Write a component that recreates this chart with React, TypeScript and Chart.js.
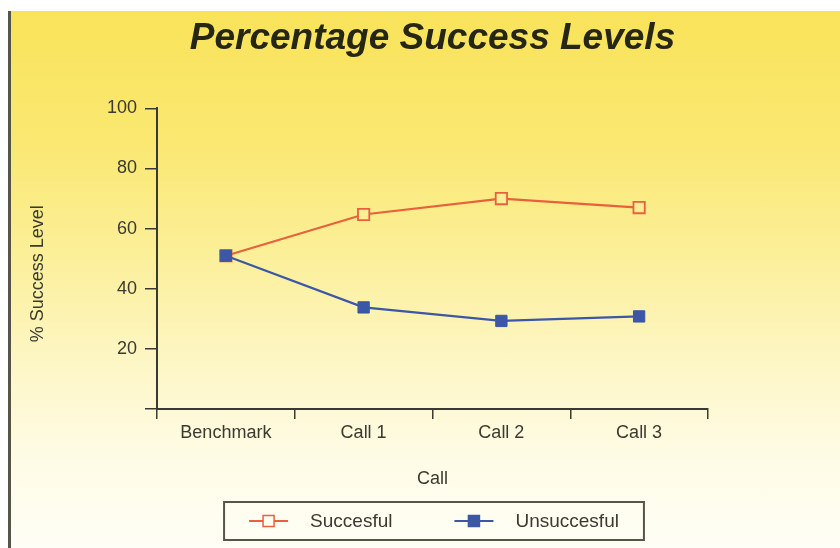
import React, { useEffect, useRef } from 'react';
import { Chart, registerables } from 'chart.js';

Chart.register(...registerables);

const categories = ['Benchmark', 'Call 1', 'Call 2', 'Call 3'];
const successful = [51, 64.7, 70, 67];
const unsuccessful = [51, 33.8, 29.3, 30.8];
const seriesNames = ['Succesful', 'Unsuccesful'];
const chartTitle = 'Percentage Success Levels';
const xTitle = 'Call';
const yTitle = '% Success Level';
const yMin = 0;
const yMax = 100;
const yStep = 20;

const FONT = '"Liberation Sans", Arial, Helvetica, sans-serif';
const TEXT = '#3a3a30';
const AXIS = '#3a3a30';
const ORANGE = '#e8603c';
const BLUE = '#3b57a6';

const boxLegend = {
  id: 'boxLegend',
  afterDraw(chart: any) {
    const { ctx, chartArea } = chart;
    ctx.save();
    ctx.font = `19px ${FONT}`;
    const lineLen = 39;
    const gapText = 22;
    const gapItem = 62;
    const padX = 25;
    const datasets = chart.data.datasets;
    const widths = datasets.map((ds: any) => ctx.measureText(ds.label).width);
    let contentW = 0;
    widths.forEach((w: number, i: number) => {
      contentW += lineLen + gapText + w + (i ? gapItem : 0);
    });
    const boxW = contentW + padX * 2;
    const cx = (chartArea.left + chartArea.right) / 2 + 1.5;
    const boxH = 38;
    const top = chart.height - 46;
    const left = cx - boxW / 2;
    ctx.strokeStyle = '#55554a';
    ctx.lineWidth = 2;
    ctx.strokeRect(left, top, boxW, boxH);
    const cy = top + boxH / 2;
    let x = left + padX;
    datasets.forEach((ds: any, i: number) => {
      ctx.strokeStyle = ds.borderColor;
      ctx.lineWidth = 2;
      ctx.beginPath();
      ctx.moveTo(x, cy);
      ctx.lineTo(x + lineLen, cy);
      ctx.stroke();
      const s = 11;
      const mx = x + lineLen / 2;
      ctx.fillStyle = ds.legendFill;
      ctx.fillRect(mx - s / 2, cy - s / 2, s, s);
      ctx.lineWidth = 1.5;
      ctx.strokeRect(mx - s / 2, cy - s / 2, s, s);
      x += lineLen + gapText;
      ctx.fillStyle = TEXT;
      ctx.textBaseline = 'middle';
      ctx.textAlign = 'left';
      ctx.fillText(ds.label, x, cy + 1);
      x += widths[i] + gapItem;
    });
    ctx.restore();
  },
};

export default function App() {
  const ref = useRef<HTMLCanvasElement>(null);

  useEffect(() => {
    if (!ref.current) return;
    Chart.defaults.font.family = FONT;
    const chart = new Chart(ref.current, {
      type: 'line',
      data: {
        labels: categories,
        datasets: [
          {
            label: seriesNames[0],
            data: successful,
            borderColor: ORANGE,
            backgroundColor: ORANGE,
            borderWidth: 2.2,
            pointStyle: 'rect',
            pointRadius: 8,
            pointBorderWidth: 1.8,
            pointBorderColor: ORANGE,
            pointBackgroundColor: '#fcee94',
            tension: 0,
            order: 1,
            legendFill: '#fffdf2',
          } as any,
          {
            label: seriesNames[1],
            data: unsuccessful,
            borderColor: BLUE,
            backgroundColor: BLUE,
            borderWidth: 2.2,
            pointStyle: 'rect',
            pointRadius: 8,
            pointBorderWidth: 1,
            pointBorderColor: BLUE,
            pointBackgroundColor: BLUE,
            tension: 0,
            order: 0,
            legendFill: BLUE,
          } as any,
        ],
      },
      options: {
        responsive: false,
        animation: false,
        devicePixelRatio: 1,
        layout: { padding: { top: 0, left: 0, right: 132, bottom: 58 } },
        plugins: {
          legend: { display: false },
          tooltip: { enabled: false },
          title: {
            display: true,
            text: chartTitle,
            fullSize: false,
            color: '#262614',
            font: { size: 37, weight: 'bold', style: 'italic', family: FONT },
            padding: { top: 6, bottom: 47 },
          },
        },
        scales: {
          x: {
            type: 'category',
            offset: true,
            grid: {
              display: true,
              offset: true,
              drawOnChartArea: false,
              drawTicks: true,
              tickLength: 10,
              color: AXIS,
              lineWidth: 1.5,
            },
            border: { display: true, color: AXIS, width: 2 },
            ticks: { color: TEXT, font: { size: 18, family: FONT }, padding: 3 },
            title: {
              display: true,
              text: xTitle,
              color: TEXT,
              font: { size: 18, family: FONT },
              padding: { top: 0, bottom: 0 },
            },
            afterFit: (s: any) => {
              s.height = 81;
            },
          },
          y: {
            min: yMin,
            max: yMax,
            grid: {
              display: true,
              drawOnChartArea: false,
              drawTicks: true,
              tickLength: 12,
              color: AXIS,
              lineWidth: 1.5,
            },
            border: { display: true, color: AXIS, width: 2 },
            ticks: {
              stepSize: yStep,
              color: TEXT,
              font: { size: 18, family: FONT },
              padding: 8,
              callback: (v: any) => (v === 0 ? '' : String(v)),
            },
            title: {
              display: true,
              text: yTitle + '      ',
              color: TEXT,
              font: { size: 18, family: FONT },
              padding: { top: 16, bottom: 0 },
            },
            afterFit: (s: any) => {
              s.width = 146;
            },
          },
        },
      },
      plugins: [boxLegend],
    });
    return () => chart.destroy();
  }, []);

  return (
    <div
      style={{
        position: 'absolute',
        left: 0,
        top: 0,
        width: 840,
        height: 548,
        background: '#ffffff',
        overflow: 'hidden',
      }}
    >
      <div
        style={{
          position: 'absolute',
          left: 8,
          top: 11,
          width: 832,
          height: 537,
          boxSizing: 'border-box',
          borderLeft: '3px solid #55554a',
          background:
            'linear-gradient(to bottom, #f9e35a 0%, #fae872 25%, #fbef98 45%, #fdf6c4 65%, #fefbe4 82%, #fffef6 100%)',
        }}
      >
        <canvas ref={ref} width={829} height={537} style={{ display: 'block', width: 829, height: 537 }} />
      </div>
    </div>
  );
}
